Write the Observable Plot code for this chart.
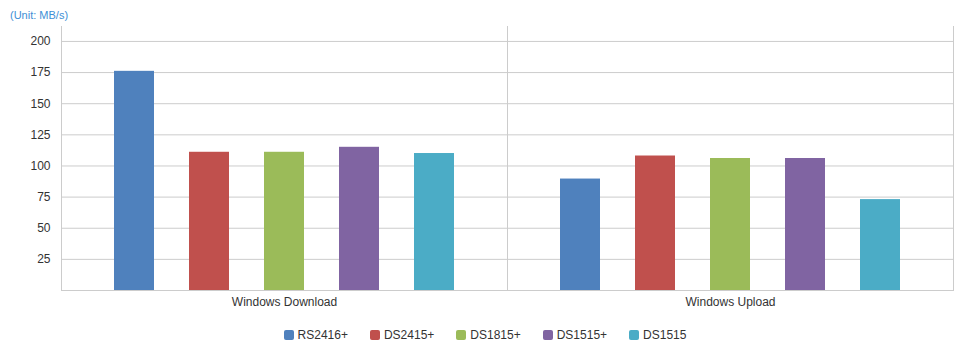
<!DOCTYPE html>
<html>
<head>
<meta charset="utf-8">
<script src="https://cdn.jsdelivr.net/npm/d3@7"></script>
<script src="https://cdn.jsdelivr.net/npm/@observablehq/plot@0.6"></script>
<style>
  body { margin: 0; background: #fff; font-family: "Liberation Sans", Arial, sans-serif; }
  #wrap { position: relative; width: 970px; height: 353px; }
  #unit { position: absolute; left: 10px; top: 9px; font-size: 11px; color: #3d8fd6; }
  #chart { position: absolute; left: 0; top: 0; }
  #legend { position: absolute; top: 328px; left: 0; width: 970px; display: flex; justify-content: center; font-size: 12px; color: #333; }
  .item { display: flex; align-items: center; margin: 0 11px; }
  .sw { width: 10px; height: 10px; border-radius: 2px; margin-right: 4px; }
</style>
</head>
<body>
<div id="wrap">
  <div id="chart"></div>
  <div id="unit">(Unit: MB/s)</div>
  <div id="legend"></div>
</div>
<script>
const categories = ["Windows Download", "Windows Upload"];
const models = ["RS2416+", "DS2415+", "DS1815+", "DS1515+", "DS1515"];
const downloadValues = [176, 111, 111, 115, 110];
const uploadValues = [89.5, 108, 106, 106, 73];
const colors = ["#4F81BD", "#C0504D", "#9BBB59", "#8064A2", "#4BACC6"];
const yTicks = [25, 50, 75, 100, 125, 150, 175, 200];

const seriesByCategory = [downloadValues, uploadValues];
const data = [];
categories.forEach((c, ci) => {
  models.forEach((m, mi) => data.push({category: c, model: m, value: seriesByCategory[ci][mi]}));
});

const chart = Plot.plot({
  width: 970,
  height: 315,
  marginTop: 26,
  marginLeft: 61,
  marginRight: 17,
  marginBottom: 25,
  style: { fontFamily: '"Liberation Sans", Arial, sans-serif', fontSize: "12px", color: "#333", background: "transparent" },
  fx: { domain: categories, padding: 0, label: null, round: false },
  x: { domain: models, paddingInner: 0.4667, paddingOuter: 0.7067, axis: null, round: false },
  y: { domain: [0, 212], ticks: yTicks, label: null },
  color: { domain: models, range: colors },
  marks: [
    Plot.gridY(yTicks, { stroke: "#cccccc", strokeOpacity: 1 }),
    Plot.barY(data, { fx: "category", x: "model", y: "value", fill: "model" }),
    Plot.frame({ anchor: "left", stroke: "#cccccc", strokeOpacity: 1 }),
    Plot.frame({ anchor: "right", stroke: "#cccccc", strokeOpacity: 1 }),
    Plot.frame({ anchor: "bottom", stroke: "#cccccc", strokeOpacity: 1 }),
    Plot.axisY(yTicks, { tickSize: 0, tickPadding: 11, label: null, fill: "#333" }),
    Plot.axisFx({ anchor: "bottom", tickSize: 0, tickPadding: 7, label: null, fill: "#333" })
  ]
});
document.getElementById("chart").appendChild(chart);

const legend = document.getElementById("legend");
models.forEach((m, i) => {
  const it = document.createElement("div");
  it.className = "item";
  const sw = document.createElement("div");
  sw.className = "sw";
  sw.style.background = colors[i];
  const t = document.createElement("span");
  t.textContent = m;
  it.appendChild(sw);
  it.appendChild(t);
  legend.appendChild(it);
});
</script>
</body>
</html>
